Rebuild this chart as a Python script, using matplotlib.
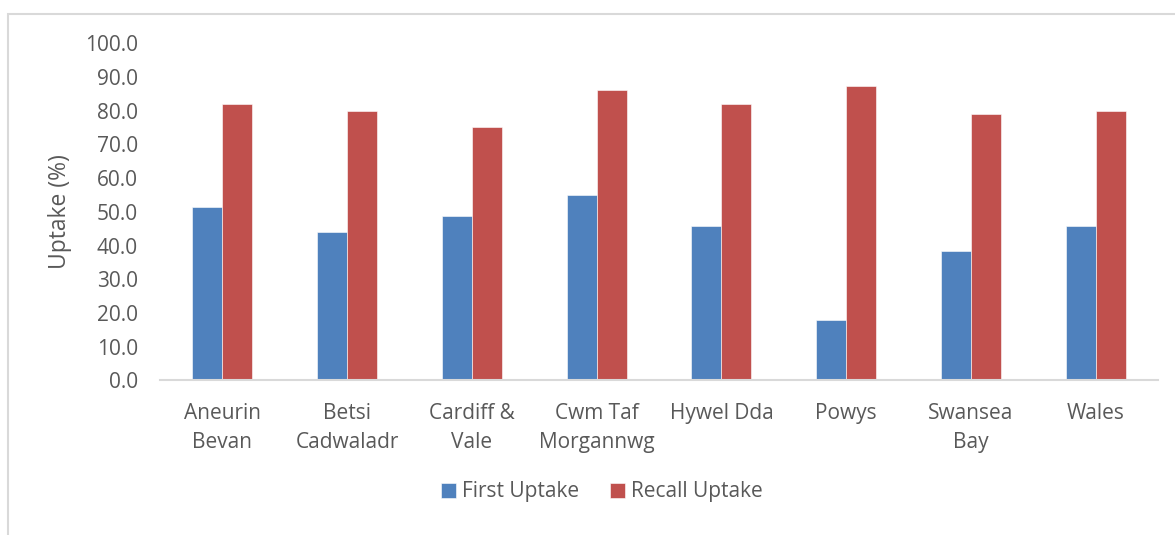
import matplotlib.pyplot as plt
import numpy as np
from matplotlib.patches import Rectangle

# ==========================
# DATA
# ==========================

boards = [
    "Aneurin\nBevan",
    "Betsi\nCadwaladr",
    "Cardiff &\nVale",
    "Cwm Taf\nMorgannwg",
    "Hywel Dda",
    "Powys",
    "Swansea\nBay",
    "Wales",
]

first_uptake = [51.4, 43.9, 48.8, 54.9, 45.8, 17.9, 38.4, 45.8]
recall_uptake = [81.8, 80.0, 75.2, 86.1, 81.9, 87.4, 79.0, 79.9]

y_ticks = [0, 10, 20, 30, 40, 50, 60, 70, 80, 90, 100]

# ==========================
# STYLE
# ==========================

plt.rcParams["font.family"] = ["Open Sans", "DejaVu Sans"]
text_col = "#595959"
blue = "#4F81BD"
red = "#C0504D"
fs = 15

fig = plt.figure(figsize=(11.75, 5.35), dpi=100)

# outer chart frame
fig.patches.append(Rectangle((8 / 1175, -0.1), 1.2, 1 - 14 / 535 + 0.1,
                             transform=fig.transFigure, fill=False,
                             edgecolor="#d9d9d9", linewidth=1.5))

ax = fig.add_axes([0.1362, 0.2888, 0.8494, 0.6308])

x = np.arange(len(boards))
w = 0.24

ax.bar(x - w / 2, first_uptake, w, color=blue, edgecolor="white",
       linewidth=0.4, label="First Uptake")
ax.bar(x + w / 2, recall_uptake, w, color=red, edgecolor="white",
       linewidth=0.4, label="Recall Uptake")

ax.set_xlim(-0.5, len(boards) - 0.5)
ax.set_ylim(0, 100)

ax.set_yticks(y_ticks)
ax.set_yticklabels([f"{v:.1f}" for v in y_ticks])
ax.set_xticks(x)
ax.set_xticklabels(boards)

for lbl in ax.get_xticklabels():
    lbl.set_linespacing(1.5)

ax.tick_params(axis="y", length=0, pad=16, labelsize=fs, labelcolor=text_col)
ax.tick_params(axis="x", length=0, pad=16, labelsize=fs, labelcolor=text_col)

for side in ["top", "right", "left"]:
    ax.spines[side].set_visible(False)
ax.spines["bottom"].set_color("#d9d9d9")
ax.spines["bottom"].set_linewidth(1.5)

ax.set_ylabel("Uptake (%)", fontsize=16.5, color=text_col)
ax.yaxis.set_label_coords(-0.088, 0.5)

fig.legend(loc="center", bbox_to_anchor=(602 / 1175, 1 - 492 / 535),
           ncol=2, frameon=False, fontsize=fs, labelcolor=text_col,
           handlelength=0.7, handleheight=0.7, handletextpad=0.3,
           columnspacing=1.5)

fig.savefig("out.png", dpi=100)
